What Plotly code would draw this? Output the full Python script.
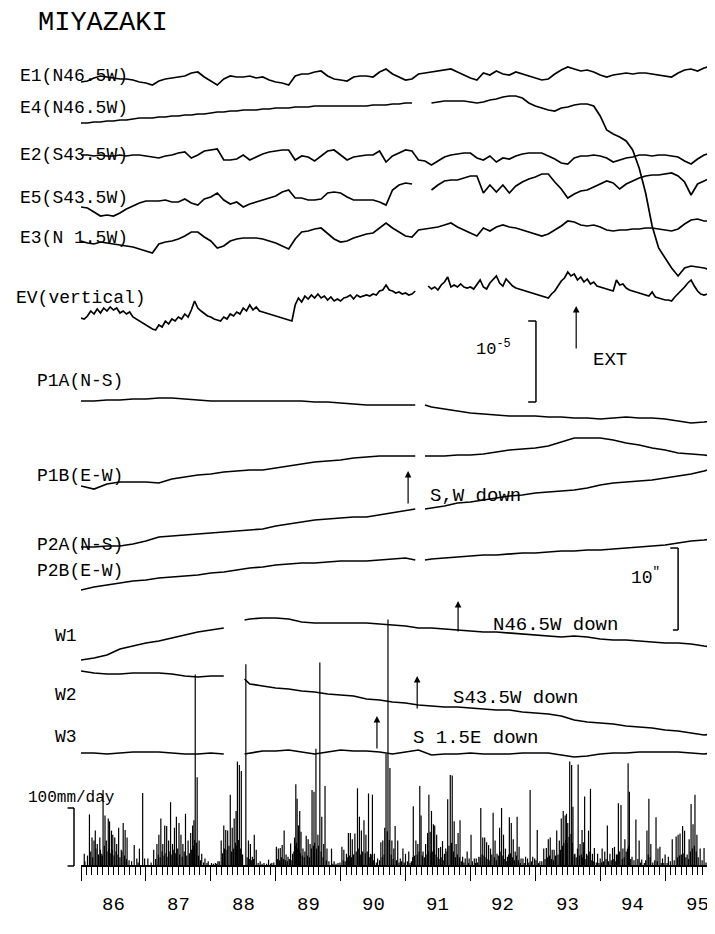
import numpy as np
import plotly.graph_objects as go

# ---------------- sampling times (decimal years) ----------------
T10 = np.round(np.arange(1986.0, 1995.95, 0.1), 2)      # 0.1-yr samples (100)
T05 = np.round(np.arange(1986.0, 1995.925, 0.05), 3)    # 0.05-yr samples (199)

# extensometer records (chart units; scale bar 10^-5 = 81 units)
E1 = [-4,-3,0,2,1,0,-1,-1,-2,-4, -5,-7,-3,-1,0,1,2,5,6,1, -3,-7,-1,2,1,1,2,0,1,-2,
      -4,-5,-7,2,4,4,6,7,2,-1, -2,-3,1,2,2,1,6,9,4,1, -2,-1,4,5,6,7,8,9,6,3,
      0,-2,5,3,7,4,3,6,4,2, 0,-2,-1,4,8,11,9,7,8,6, 3,1,3,4,5,4,5,5,4,3,
      2,1,5,8,9,7,10,12,9,8]
E4 = [-15,-15,-14,-14,-13,-13,-12,-12,-11,-10, -10,-10,-9,-9,-8,-8,-7,-7,-6,-6,
      -5,-4,-4,-3,-3,-2,-2,-2,-1,-1, 0,0,0,1,1,1,2,2,2,2, 2,2,2,2,2,3,3,3,4,4,
      5,5,None,None,5,6,7,7,7,7, 6,5,6,8,9,11,12,12,10,5, 2,0,-2,-3,0,1,3,4,4,2,
      -8,-22,-26,-29,-33,-42,-60,-85,-118,-140, -150,-160,-168,-160,-158,-159,-160,-162,-165,-167]
E2 = [0,0,-1,0,-1,-1,0,-1,0,0, -1,-2,-3,-1,0,2,3,-3,0,4, 5,6,-5,-5,-4,0,-5,-2,1,3,
      4,5,5,-5,-1,-2,-6,-1,4,5, 0,-5,-2,-1,0,0,4,-7,-1,2, 5,4,-5,-6,-10,-6,-2,0,1,2,
      2,-3,-5,-1,-7,-3,-4,-1,1,2, 2,2,-1,-4,-8,-9,-3,-1,-1,0, -1,-3,-7,-5,-3,-2,0,0,-1,0,
      0,-1,-2,-6,-9,-4,0,2,4,5]
E5 = [-9,-10,-14,-18,-17,-18,-15,-11,-8,-5, -3,-3,-3,-2,-4,-4,-1,-5,-7,-1,
      1,5,-2,-6,-4,-9,-6,-4,-2,0, 2,6,8,0,0,-2,-2,-1,5,6, 5,1,-2,-2,-2,-2,-4,-7,8,13,
      15,14,None,None,8,13,17,18,18,20, 22,22,5,13,6,13,5,12,16,19, 21,24,24,16,9,0,4,7,8,11,
      14,17,15,9,14,17,20,22,23,23, 24,25,22,16,3,14,17,20,24,27]
E3 = [-3,-5,-6,-4,-5,-6,-7,-8,-9,-11, -13,-15,-6,-4,-3,-1,2,6,6,1, -3,-10,-8,-3,-1,0,0,0,-1,-3,
      -5,-8,-11,-1,6,7,9,10,4,-1, -4,-3,0,2,4,5,10,15,10,6, 2,1,8,9,10,11,13,15,11,8,
      5,2,10,7,11,13,11,10,8,6, 4,2,4,8,12,17,16,13,12,13, 11,8,7,8,8,9,9,10,10,9,
      8,7,9,14,18,19,17,17,18,18]
EV = [-20,-21,-18,-13,-16,-11,-15,-10,-13,-9, -12,-10,-15,-13,-16,-14,-19,-21,-23,-25,
      -27,-29,-31,-32,-27,-29,-23,-26,-21,-23, -19,-21,-16,-19,-12,-3,-10,-13,-16,-18,
      -19,-21,-22,-23,-19,-21,-16,-18,-14,-16, -10,-13,-7,-12,-9,-13,-14,-15,-16,-17,
      -18,-19,-20,-21,-22,-23,-7,0,-4,2, -1,3,0,4,0,2,-2,1,-3,-1,
      -3,0,1,3,-1,3,1,2,3,2, 4,3,7,8,13,8,7,5,6,4,
      5,3,4,7,None,None,None,12,9,11, 8,13,16,21,11,13,11,14,11,10,
      11,9,14,18,11,9,15,19,22,15, 12,19,15,12,10,9,8,7,6,5,
      4,3,2,1,0,4,7,12,17,20, 26,22,24,18,21,16,19,14,16,12,
      11,10,9,8,7,18,13,14,10,8, 7,6,5,4,3,2,6,1,0,-1,
      -2,-2,-3,1,4,7,11,15,18,12, 7,4,3,4,6,1,-2,-4,-5]

# tiltmeter records (scale bar 10" = 82 units)
TP = [1986.0,1986.2,1986.4,1986.6,1986.8,1987.0,1987.2,1987.4,1987.6,1987.8,1988.0,1988.2,1988.4,
      1988.6,1988.8,1989.0,1989.2,1989.4,1989.6,1989.8,1990.0,1990.2,1990.4,1990.6,1990.8,1991.0,
      1991.15,1991.22,1991.3,
      1991.4,1991.6,1991.8,1992.0,1992.2,1992.4,1992.6,1992.8,1993.0,1993.2,1993.4,1993.6,1993.8,
      1994.0,1994.2,1994.4,1994.6,1994.8,1995.0,1995.2,1995.4,1995.6,1995.8,1995.9]
P1A = [0,0,1,1,2,2,3,3,2,1,0,0,0,0,0,0,0,0,-1,-1,-2,-3,-4,-4,-4,-4, -4,None,-4,
       -6,-8,-10,-12,-13,-14,-15,-15,-15,-16,-16,-17,-17,-18,-17,-16,-17,-17,-18,-20,-22,-21,-19, -18]
P1B = [-8,-11,-6,-4,-4,-4,-5,-1,1,3,4,6,7,8,8,10,12,14,16,17,18,20,21,22,22,22, 22,None,22,
       22,22,23,23,24,26,28,29,30,32,36,40,40,40,38,35,33,30,28,25,24,23,21, 25]
P2A = [-2,-2,-1,-1,1,4,8,9,10,11,12,13,14,15,16,19,21,23,25,26,27,28,28,30,32,34, 36,None,36,
       37,39,42,43,45,47,49,50,52,53,54,55,57,60,62,63,64,65,67,69,71,74,78, 80]
P2B = [-19,-16,-14,-12,-10,-9,-7,-6,-5,-4,-2,-1,1,3,4,6,7,8,8,9,10,10,10,11,12,13, 11,None,11,
       12,13,14,15,16,16,17,18,18,19,20,20,21,21,22,23,24,25,26,28,30,31,32, 33]

# water-tube tiltmeter records
TW = [1986.0,1986.2,1986.4,1986.6,1986.8,1987.0,1987.2,1987.4,1987.6,1987.8,1988.0,1988.2,
      1988.35, 1988.52,
      1988.6,1988.8,1989.0,1989.2,1989.4,1989.6,1989.8,1990.0,1990.2,1990.4,1990.6,1990.8,
      1991.0,1991.2,1991.4,1991.6,1991.8,1992.0,1992.2,1992.4,1992.6,1992.8,1993.0,1993.2,
      1993.4,1993.6,1993.8,1994.0,1994.2,1994.4,1994.6,1994.8,1995.0,1995.2,1995.4,1995.6,
      1995.8, 1995.9]
W1 = [-20,-18,-15,-9,-6,-3,-1,2,5,8,10,12, None, 20,
      21,22,22,21,18,17,17,17,17,17,16,15,14,12,12,11,10,9,8,8,7,6,5,4,3,4,3,1,0,0,
      -1,-2,-3,-3,-4,-6,-7, -8]
W2 = [25,23,22,22,23,23,23,22,20,19,20,20, None, 17,
      12,10,8,7,5,4,2,1,0,-3,-4,-6,-7,-9,-10,-11,-11,-12,-13,-14,-14,-16,-17,-18,-20,-24,
      -26,-27,-28,-30,-31,-32,-34,-35,-37,-39,-37, -37]
W3 = [-1,-1,-2,-1,0,0,0,-1,-2,-2,-1,-2, None, -2,
      -1,1,1,2,0,-2,0,2,1,1,0,-2,0,2,-3,-2,-2,-1,-2,-2,-2,-1,-1,-1,-3,-5,-4,-2,-1,-1,
      0,0,0,0,-1,-2,0, 3]

# daily rainfall (mm/day): individually readable bars
RAIN_T = [1986.05,1986.06,1986.13,1986.17,1986.20,1986.22,1986.25,1986.29,1986.32,1986.34,
          1986.37,1986.39,1986.42,1986.44,1986.47,1986.49,1986.52,1986.55,1986.58,1986.62,
          1986.65,1986.68,1986.71,1986.78,1986.82,1986.86,1986.90,1986.95,1986.98,
          1987.03,1987.12,1987.17,1987.20,1987.23,1987.26,1987.29,1987.32,1987.35,1987.38,
          1987.41,1987.44,1987.47,1987.51,1987.54,1987.57,1987.61,1987.65,1987.69,1987.72,
          1987.74,1987.76,1987.79,1987.82,1987.86,1987.91,1987.96,
          1988.01,1988.07,1988.11,1988.16,1988.20,1988.23,1988.26,1988.30,1988.33,1988.36,
          1988.39,1988.41,1988.44,1988.47,1988.54,1988.58,1988.61,1988.64,1988.67,1988.70,
          1988.76,1988.82,1988.89,1988.94,
          1989.01,1989.04,1989.07,1989.10,1989.13,1989.16,1989.19,1989.23,1989.26,1989.29,
          1989.31,1989.33,1989.35,1989.37,1989.39,1989.42,1989.45,1989.47,1989.50,1989.53,
          1989.56,1989.59,1989.62,1989.65,1989.68,1989.71,1989.74,1989.76,1989.79,1989.86,
          1989.90,1989.96,
          1990.02,1990.05,1990.09,1990.12,1990.15,1990.18,1990.22,1990.26,1990.29,1990.32,
          1990.36,1990.39,1990.43,1990.46,1990.49,1990.52,1990.57,1990.62,1990.65,1990.68,
          1990.70,1990.73,1990.76,1990.79,1990.82,1990.84,1990.88,1990.92,1990.96,
          1991.00,1991.05,1991.09,1991.12,1991.16,1991.19,1991.22,1991.24,1991.27,1991.31,
          1991.34,1991.36,1991.38,1991.40,1991.43,1991.45,1991.48,1991.51,1991.54,1991.57,
          1991.60,1991.62,1991.65,1991.69,1991.72,1991.75,1991.78,1991.81,1991.84,1991.88,
          1991.92,1991.95,1991.98,
          1992.01,1992.06,1992.09,1992.13,1992.16,1992.19,1992.22,1992.25,1992.28,1992.31,
          1992.35,1992.38,1992.41,1992.45,1992.48,1992.51,1992.54,1992.57,1992.60,1992.63,
          1992.66,1992.69,1992.72,1992.75,1992.78,1992.81,1992.85,1992.88,1992.92,1992.96,
          1992.99,
          1993.03,1993.07,1993.13,1993.17,1993.20,1993.23,1993.26,1993.29,1993.33,1993.37,
          1993.40,1993.43,1993.46,1993.48,1993.50,1993.53,1993.56,1993.58,1993.61,1993.66,
          1993.69,1993.72,1993.74,1993.76,1993.79,1993.82,1993.85,1993.88,1993.91,1993.96,
          1994.00,1994.03,1994.07,1994.11,1994.15,1994.19,1994.22,1994.25,1994.28,1994.32,
          1994.35,1994.38,1994.40,1994.43,1994.45,1994.49,1994.55,1994.60,1994.64,1994.72,
          1994.75,1994.78,1994.86,1994.89,1994.92,1994.96,
          1995.00,1995.05,1995.11,1995.17,1995.20,1995.23,1995.27,1995.30,1995.34,1995.37,
          1995.40,1995.43,1995.46,1995.49,1995.54,1995.60,1995.66,1995.69,1995.72,1995.75,
          1995.80,1995.84,1995.88]
RAIN_MM = [21,8,89,49,44,61,38,49,21,131,
           87,44,82,77,61,54,49,38,66,28,
           74,62,49,8,36,13,30,126,13,
           13,28,38,54,82,38,70,69,44,110,
           38,66,85,74,54,38,90,44,57,70,
           79,330,153,44,21,13,8,
           5,5,8,44,70,62,61,123,66,82,
           95,180,174,164,348,44,38,16,54,28,
           8,5,11,5,
           33,30,31,36,61,20,16,39,21,49,
           141,116,70,95,59,30,25,52,46,38,
           131,128,202,54,351,85,38,138,30,30,
           8,5,
           33,28,21,57,57,46,56,134,85,61,
           79,54,125,21,123,21,13,41,44,66,
           193,425,169,44,30,69,44,13,30,
           21,25,8,103,44,38,138,87,25,38,
           57,123,59,95,72,70,54,31,33,43,
           21,30,115,157,156,77,38,57,79,16,
           13,25,13,
           54,13,13,16,100,49,49,41,36,30,
           92,44,21,66,100,54,30,16,84,74,
           46,25,85,33,13,13,16,13,131,16,
           13,
           62,8,30,31,46,49,28,28,61,44,
           82,95,87,90,74,180,174,102,21,175,
           38,62,41,120,21,61,133,21,31,21,
           13,30,25,70,21,31,33,20,108,105,
           30,46,25,177,128,16,80,44,11,61,
           116,38,84,30,33,13,
           20,16,46,51,54,56,69,61,20,46,
           107,72,123,54,30,31,16,136,279,31,
           36,21,13]

# daily rainfall (mm/day): the dense low days that fill the base of the record
RAIN_LOW_T = [1986.10,1986.15,1986.18,1986.23,1986.27,1986.30,1986.33,1986.36,1986.40,1986.43,
              1986.46,1986.48,1986.51,1986.54,1986.57,1986.60,1986.63,1986.67,1986.70,1986.74,1986.88,
              1987.08,1987.15,1987.19,1987.22,1987.25,1987.28,1987.31,1987.34,1987.37,1987.40,
              1987.43,1987.46,1987.49,1987.52,1987.56,1987.59,1987.63,1987.67,1987.70,1987.73,
              1987.75,1987.78,1987.81,1987.84,1987.89,1987.94,
              1988.04,1988.09,1988.13,1988.18,1988.21,1988.25,1988.28,1988.32,1988.35,1988.38,
              1988.40,1988.43,1988.46,1988.49,1988.56,1988.60,1988.63,1988.66,1988.73,1988.79,
              1988.86,1988.92,1988.97,
              1989.03,1989.06,1989.09,1989.12,1989.15,1989.18,1989.21,1989.25,1989.28,1989.30,
              1989.32,1989.34,1989.36,1989.38,1989.41,1989.44,1989.49,1989.52,1989.55,1989.58,
              1989.60,1989.63,1989.66,1989.70,1989.73,1989.78,1989.82,1989.88,1989.93,1989.99,
              1990.04,1990.07,1990.11,1990.14,1990.17,1990.20,1990.24,1990.28,1990.31,1990.34,
              1990.38,1990.41,1990.45,1990.48,1990.51,1990.55,1990.60,1990.64,1990.67,1990.72,
              1990.75,1990.78,1990.81,1990.86,1990.90,1990.94,1990.98,
              1991.03,1991.07,1991.11,1991.14,1991.18,1991.21,1991.26,1991.29,1991.33,1991.35,
              1991.39,1991.42,1991.44,1991.47,1991.50,1991.53,1991.56,1991.59,1991.64,1991.67,
              1991.71,1991.74,1991.77,1991.80,1991.83,1991.86,1991.90,1991.97,
              1992.03,1992.08,1992.11,1992.15,1992.18,1992.21,1992.24,1992.27,1992.30,1992.33,
              1992.37,1992.40,1992.43,1992.47,1992.50,1992.53,1992.56,1992.59,1992.62,1992.65,
              1992.68,1992.71,1992.74,1992.77,1992.83,1992.90,1992.94,
              1993.01,1993.05,1993.10,1993.15,1993.19,1993.22,1993.25,1993.28,1993.31,1993.35,
              1993.39,1993.42,1993.44,1993.47,1993.49,1993.52,1993.55,1993.57,1993.60,1993.63,
              1993.65,1993.68,1993.71,1993.73,1993.75,1993.78,1993.81,1993.84,1993.87,1993.90,
              1993.94,1993.98,
              1994.02,1994.05,1994.09,1994.13,1994.17,1994.21,1994.24,1994.27,1994.30,1994.34,
              1994.37,1994.42,1994.44,1994.47,1994.52,1994.58,1994.62,1994.68,1994.70,1994.74,
              1994.77,1994.81,1994.84,1994.88,1994.94,1994.98,
              1995.03,1995.08,1995.14,1995.19,1995.22,1995.25,1995.29,1995.32,1995.36,1995.39,
              1995.42,1995.45,1995.48,1995.51,1995.57,1995.63,1995.68,1995.71,1995.74,1995.78,
              1995.82,1995.86]
RAIN_LOW_MM = [18,25,15,30,20,28,18,35,25,30,
               22,28,18,25,20,15,25,18,12,10,6,
               6,12,20,15,25,18,22,16,25,20,
               28,22,30,20,16,25,18,22,28,35,
               45,40,18,10,6,5,
               4,4,8,22,30,28,35,25,30,40,
               35,45,30,20,15,12,10,12,5,4,
               4,4,6,
               12,10,15,12,10,8,12,10,25,35,
               40,30,28,22,18,15,18,15,30,35,
               40,30,35,25,15,10,8,4,4,6,
               10,8,15,18,15,20,25,30,20,25,
               22,25,15,20,10,6,10,15,20,60,
               45,20,12,10,6,8,6,
               8,5,15,18,20,25,18,15,20,25,
               22,25,28,20,15,12,15,10,25,35,
               40,25,15,20,15,8,6,5,
               8,5,6,15,20,18,15,12,10,20,
               15,10,18,25,18,12,8,20,22,15,
               10,18,10,5,5,6,8,
               10,5,8,12,15,18,12,10,18,20,
               28,35,40,45,40,50,55,40,20,15,
               30,18,20,15,25,12,18,25,10,8,
               6,5,
               6,8,12,8,10,12,8,20,25,12,
               15,30,35,12,10,12,6,5,10,20,
               15,6,10,8,5,5,
               5,8,10,15,18,20,22,15,12,25,
               30,35,25,15,10,6,30,50,15,10,
               8,5]
assert len(RAIN_T) == len(RAIN_MM), (len(RAIN_T), len(RAIN_MM))
assert len(RAIN_LOW_T) == len(RAIN_LOW_MM), (len(RAIN_LOW_T), len(RAIN_LOW_MM))

YEAR_LABELS = ["86", "87", "88", "89", "90", "91", "92", "93", "94", "95"]

# ---------------- layout of the record rows (chart units, downward) ----------------
ROW = {"E1": 70, "E4": 100, "E2": 147, "E5": 190, "E3": 230, "EV": 290,
       "P1A": 393, "P1B": 470, "P2A": 537, "P2B": 563,
       "W1": 632, "W2": 688, "W3": 744, "RAIN": 858}
STRAIN_BAR = 81      # chart units for 10^-5 strain
TILT_BAR = 82        # chart units for 10"
RAIN_BAR = 58        # chart units for 100 mm/day
FONT = "Liberation Mono"
LW = 1.7

fig = go.Figure()

def add_row(t, vals, key):
    y = [None if v is None else v - ROW[key] for v in vals]
    assert len(t) == len(y), (key, len(t), len(y))
    fig.add_trace(go.Scatter(x=list(t), y=y, mode="lines", connectgaps=False,
                             line=dict(color="black", width=LW), hoverinfo="skip"))

for key, t, vals in [("E1", T10, E1), ("E4", T10, E4), ("E2", T10, E2), ("E5", T10, E5),
                     ("E3", T10, E3), ("EV", T05, EV),
                     ("P1A", TP, P1A), ("P1B", TP, P1B), ("P2A", TP, P2A), ("P2B", TP, P2B),
                     ("W1", TW, W1), ("W2", TW, W2), ("W3", TW, W3)]:
    add_row(t, vals, key)

# rainfall bars
rx, ry = [], []
for t, mm in list(zip(RAIN_LOW_T, RAIN_LOW_MM)) + list(zip(RAIN_T, RAIN_MM)):
    rx += [t, t, None]
    ry += [-ROW["RAIN"], -ROW["RAIN"] + mm * RAIN_BAR / 100.0, None]
fig.add_trace(go.Scatter(x=rx, y=ry, mode="lines", line=dict(color="black", width=1.2),
                         hoverinfo="skip"))

shapes = []
def seg(x0, y0, x1, y1, xref="x", w=1.5):
    shapes.append(dict(type="line", xref=xref, yref="y", x0=x0, y0=y0, x1=x1, y1=y1,
                       line=dict(color="black", width=w)))

# strain scale bar 10^-5
sb_x, sb_top = 1993.01, -313
seg(sb_x, sb_top, sb_x, sb_top - STRAIN_BAR)
seg(sb_x - 0.12, sb_top, sb_x, sb_top)
seg(sb_x - 0.12, sb_top - STRAIN_BAR, sb_x, sb_top - STRAIN_BAR)
# tilt scale bar 10"
tb_x, tb_top = 1995.20, -540
seg(tb_x, tb_top, tb_x, tb_top - TILT_BAR)
seg(tb_x - 0.12, tb_top, tb_x, tb_top)
seg(tb_x - 0.08, tb_top - TILT_BAR, tb_x, tb_top - TILT_BAR)
# rain scale bar 100 mm/day
rb = 66 / 715
seg(rb, -ROW["RAIN"], rb, -ROW["RAIN"] + RAIN_BAR, xref="paper")
seg(rb - 0.009, -ROW["RAIN"], rb, -ROW["RAIN"], xref="paper")
seg(rb - 0.009, -ROW["RAIN"] + RAIN_BAR, rb, -ROW["RAIN"] + RAIN_BAR, xref="paper")

ann = []
def label(text, x, y, size, xref="paper", anchor="left"):
    ann.append(dict(text=text, x=x, y=y, xref=xref, yref="y", xanchor=anchor,
                    yanchor="middle", showarrow=False,
                    font=dict(family=FONT, size=size, color="black")))

def arrow(x, y_tip, y_tail):
    ann.append(dict(x=x, y=y_tip, ax=x, ay=y_tail, xref="x", yref="y", axref="x", ayref="y",
                    text="", showarrow=True, arrowhead=2, arrowsize=1.1, arrowwidth=1.2,
                    arrowcolor="black"))

label("MIYAZAKI", 28 / 715, -15, 27)
for txt, xl, key_y in [("E1(N46.5W)", 10, -68), ("E4(N46.5W)", 10, -100),
                       ("E2(S43.5W)", 10, -147), ("E5(S43.5W)", 10, -190),
                       ("E3(N 1.5W)", 10, -230), ("EV(vertical)", 6, -290),
                       ("P1A(N-S)", 27, -373), ("P1B(E-W)", 27, -468),
                       ("P2A(N-S)", 27, -537), ("P2B(E-W)", 27, -563),
                       ("W1", 45, -628), ("W2", 45, -687), ("W3", 45, -729)]:
    label(txt, xl / 715, key_y, 18)
label("100mm/day", 18 / 715, -790, 16)

label("10<sup>-5</sup>", 1992.05, -340, 17, xref="x")
label("EXT", 1993.86, -352, 19, xref="x")
label("S,W down", 1991.35, -488, 19, xref="x")
label("10<sup>\"</sup>", 1994.45, -568, 18, xref="x")
label("N46.5W down", 1992.32, -617, 19, xref="x")
label("S43.5W down", 1991.70, -690, 19, xref="x")
label("S 1.5E down", 1991.08, -730, 19, xref="x")

arrow(1993.63, -298, -342)
arrow(1991.04, -463, -497)
arrow(1991.81, -593, -625)
arrow(1991.18, -668, -702)
arrow(1990.56, -708, -742)

for i, lab in enumerate(YEAR_LABELS):
    label(lab, 1986.5 + i, -897, 19, xref="x", anchor="center")

fig.update_layout(
    width=715, height=934, margin=dict(l=0, r=0, t=0, b=0),
    paper_bgcolor="white", plot_bgcolor="white", showlegend=False,
    shapes=shapes, annotations=ann,
    xaxis=dict(domain=[73 / 715, 1], range=[1986.0, 1995.892], anchor="free",
               position=1 - ROW["RAIN"] / 934, showline=True, linecolor="black", linewidth=1.5,
               ticks="outside", tick0=1986, dtick=1, ticklen=14, tickwidth=1.4,
               tickcolor="black", showticklabels=False, showgrid=False, zeroline=False,
               minor=dict(ticks="outside", tick0=1986, dtick=1 / 12, ticklen=8,
                          tickwidth=1.1, tickcolor="black", showgrid=False)),
    yaxis=dict(domain=[0, 1], range=[-934, 0], visible=False),
)

fig.write_html("out.html")
